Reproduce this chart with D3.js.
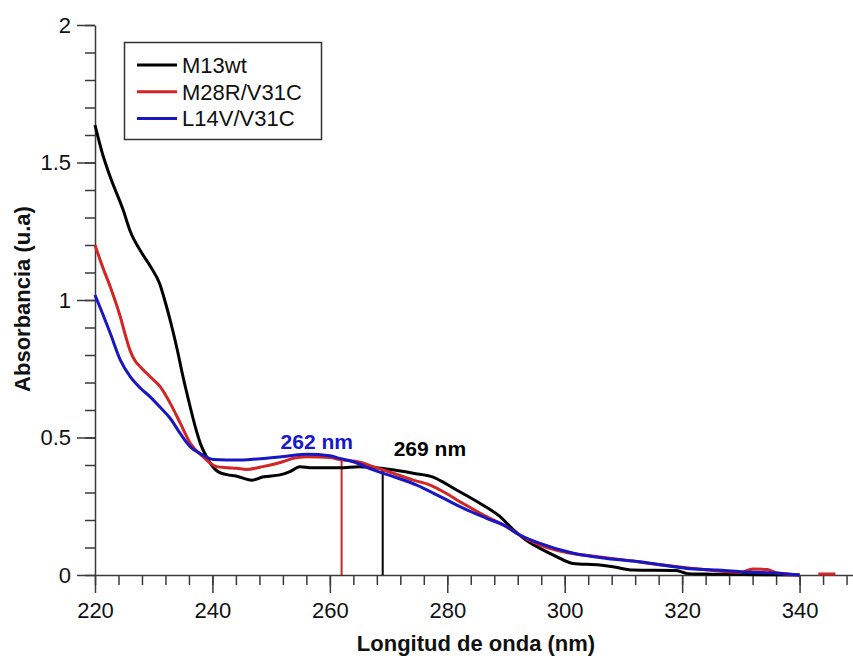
<!DOCTYPE html>
<html>
<head>
<meta charset="utf-8">
<script src="https://cdn.jsdelivr.net/npm/d3@7"></script>
<style>
  html, body { margin: 0; padding: 0; background: #fff; }
  svg { display: block; }
  text { font-family: "Liberation Sans", Arial, Helvetica, sans-serif; fill: #111; }
</style>
</head>
<body>
<svg id="chart" width="853" height="660"></svg>
<script>
// UV absorbance spectra (wavelength in nm, absorbance in u.a.)
const m13wtNm  = [220, 221.3, 222.6, 224.8, 226, 228, 229.5, 231, 232, 233, 234, 235, 236, 237, 238, 239, 240, 241, 242.5, 244, 246.7, 248.7, 251.5, 253.2, 254.9, 257, 261.7, 265, 268.8, 271.5, 274.2, 277.6, 279.5, 281.6, 285.6, 289, 291, 293.5, 295.8, 298.6, 301.4, 306, 308.2, 311.6, 319, 321, 325, 330, 340];
const m13wtAbs = [1.636, 1.53, 1.447, 1.327, 1.25, 1.17, 1.12, 1.06, 0.99, 0.91, 0.82, 0.72, 0.63, 0.545, 0.475, 0.43, 0.395, 0.375, 0.365, 0.36, 0.345, 0.357, 0.364, 0.376, 0.394, 0.39, 0.39, 0.394, 0.388, 0.38, 0.37, 0.356, 0.335, 0.309, 0.26, 0.212, 0.17, 0.125, 0.097, 0.067, 0.042, 0.036, 0.03, 0.018, 0.016, 0.005, 0.003, 0.002, 0];

const m28rNm  = [220, 221.3, 222.6, 224.3, 225.2, 226, 226.8, 227.7, 229.4, 231.1, 232.8, 234.5, 236.2, 238.4, 240.7, 242.5, 244.1, 245.8, 248.6, 252, 253.7, 256.1, 260, 261.7, 265.1, 267.4, 270.8, 274.2, 277.1, 278.8, 282.7, 286.7, 290.1, 291.8, 295.8, 298.6, 301.4, 305, 310, 316.8, 321.4, 326, 330, 332, 334.5, 336, 340, null, 343.2, 346.1];
const m28rAbs = [1.2, 1.12, 1.048, 0.94, 0.87, 0.815, 0.78, 0.757, 0.721, 0.685, 0.625, 0.553, 0.48, 0.43, 0.394, 0.39, 0.388, 0.384, 0.394, 0.412, 0.424, 0.43, 0.427, 0.42, 0.41, 0.394, 0.37, 0.345, 0.327, 0.309, 0.26, 0.212, 0.176, 0.152, 0.109, 0.09, 0.078, 0.068, 0.055, 0.036, 0.025, 0.015, 0.01, 0.022, 0.02, 0.008, 0, null, 0.004, 0.004];

const l14vNm  = [220, 221.3, 222.6, 224.3, 226, 227.7, 229.4, 231.1, 232.8, 234.5, 236.2, 237.9, 240.2, 244.7, 246.4, 250.4, 253.2, 256.1, 260, 261.7, 264, 267.4, 270.8, 274.8, 278.8, 282.7, 286.7, 290.1, 291.8, 295.8, 301.5, 307.2, 312.8, 320.8, 326, 330, 335, 340];
const l14vAbs = [1.018, 0.95, 0.879, 0.782, 0.721, 0.68, 0.648, 0.61, 0.57, 0.515, 0.467, 0.442, 0.42, 0.418, 0.42, 0.427, 0.434, 0.439, 0.434, 0.424, 0.412, 0.382, 0.358, 0.327, 0.285, 0.243, 0.206, 0.176, 0.152, 0.115, 0.079, 0.06, 0.048, 0.024, 0.018, 0.012, 0.008, 0];

const seriesNames  = ["M13wt", "M28R/V31C", "L14V/V31C"];
const seriesColors = ["#000000", "#d42424", "#1717c4"];

// Peak markers: wavelength, absorbance at the peak, label
const peakNm     = [262, 269];
const peakAbs    = [0.425, 0.39];
const peakLabels = ["262 nm", "269 nm"];
const peakLineColors  = ["#c8242c", "#000000"];
const peakLabelColors = ["#1717d0", "#000000"];

const xMajorTicks = [220, 240, 260, 280, 300, 320, 340];
const yMajorTicks = [0, 0.5, 1, 1.5, 2];

const svg = d3.select("#chart");
const x = d3.scaleLinear().domain([220, 349.1]).range([95, 853]);
const y = d3.scaleLinear().domain([0, 2]).range([575, 25]);

const axisColor = "#3a3a3a";

// x axis: minor ticks every 4 nm, labelled majors every 20 nm
const xMinor = d3.range(220, 349, 4);
svg.append("g").attr("transform", `translate(0,${y(0)})`)
  .call(d3.axisBottom(x).tickValues(xMinor).tickSize(10).tickSizeOuter(0).tickFormat(""))
  .call(g => g.selectAll("line, path").attr("stroke", axisColor).attr("stroke-width", 1.5));
svg.append("g").attr("transform", `translate(0,${y(0)})`)
  .call(d3.axisBottom(x).tickValues(xMajorTicks).tickSize(18).tickSizeOuter(0).tickPadding(9).tickFormat(d3.format("d")))
  .call(g => g.select(".domain").remove())
  .call(g => g.selectAll("line").attr("stroke", axisColor).attr("stroke-width", 1.5))
  .call(g => g.selectAll("text").attr("font-size", 22).attr("font-family", null).attr("fill", "#111"));

// y axis: minor ticks every 0.1, labelled majors every 0.5
const yMinor = d3.range(0, 2.001, 0.1);
svg.append("g").attr("transform", `translate(${x(220)},0)`)
  .call(d3.axisLeft(y).tickValues(yMinor).tickSize(10).tickSizeOuter(0).tickFormat(""))
  .call(g => g.selectAll("line, path").attr("stroke", axisColor).attr("stroke-width", 1.5));
svg.append("g").attr("transform", `translate(${x(220)},0)`)
  .call(d3.axisLeft(y).tickValues(yMajorTicks).tickSize(18).tickSizeOuter(0).tickPadding(6).tickFormat(d => String(d)))
  .call(g => g.select(".domain").remove())
  .call(g => g.selectAll("line").attr("stroke", axisColor).attr("stroke-width", 1.5))
  .call(g => g.selectAll("text").attr("font-size", 22).attr("font-family", null).attr("fill", "#111"));

// axis titles
svg.append("text")
  .attr("x", 476).attr("y", 651)
  .attr("text-anchor", "middle")
  .attr("font-size", 22).attr("font-weight", "bold")
  .text("Longitud de onda (nm)");
svg.append("text")
  .attr("transform", "translate(30,299) rotate(-90)")
  .attr("text-anchor", "middle")
  .attr("font-size", 22).attr("font-weight", "bold")
  .text("Absorbancia (u.a)");

// peak drop lines
peakNm.forEach((nm, i) => {
  svg.append("line")
    .attr("x1", x(nm)).attr("x2", x(nm))
    .attr("y1", y(0)).attr("y2", y(peakAbs[i]))
    .attr("stroke", peakLineColors[i]).attr("stroke-width", 2);
});

// spectra
const spectra = [
  { nm: m13wtNm, abs: m13wtAbs },
  { nm: m28rNm,  abs: m28rAbs },
  { nm: l14vNm,  abs: l14vAbs }
];
const line = d3.line()
  .defined(d => d[0] !== null && d[1] !== null)
  .x(d => x(d[0])).y(d => y(d[1]))
  .curve(d3.curveMonotoneX);

// draw black first, then red, then blue on top
spectra.forEach((s, i) => {
  const pts = s.nm.map((v, j) => [v, s.abs[j]]);
  svg.append("path")
    .attr("d", line(pts))
    .attr("fill", "none")
    .attr("stroke", seriesColors[i])
    .attr("stroke-width", 3)
    .attr("stroke-linejoin", "round");
});

// peak labels
svg.append("text")
  .attr("x", x(peakNm[0]) - 61).attr("y", y(peakAbs[0]) - 9)
  .attr("font-size", 21).attr("font-weight", "bold")
  .attr("fill", peakLabelColors[0]).style("fill", peakLabelColors[0])
  .text(peakLabels[0]);
svg.append("text")
  .attr("x", x(peakNm[1]) + 11).attr("y", y(peakAbs[1]) - 12)
  .attr("font-size", 21).attr("font-weight", "bold")
  .attr("fill", peakLabelColors[1]).style("fill", peakLabelColors[1])
  .text(peakLabels[1]);

// legend
const legend = svg.append("g");
legend.append("rect")
  .attr("x", 124.5).attr("y", 42.5).attr("width", 197).attr("height", 97)
  .attr("fill", "#fff").attr("stroke", "#333").attr("stroke-width", 1.5);
seriesNames.forEach((name, i) => {
  const ly = 65 + i * 26.7;
  legend.append("line")
    .attr("x1", 137).attr("x2", 177).attr("y1", ly).attr("y2", ly)
    .attr("stroke", seriesColors[i]).attr("stroke-width", 3);
  legend.append("text")
    .attr("x", 182).attr("y", ly + 8)
    .attr("font-size", 22)
    .text(name);
});
</script>
</body>
</html>
